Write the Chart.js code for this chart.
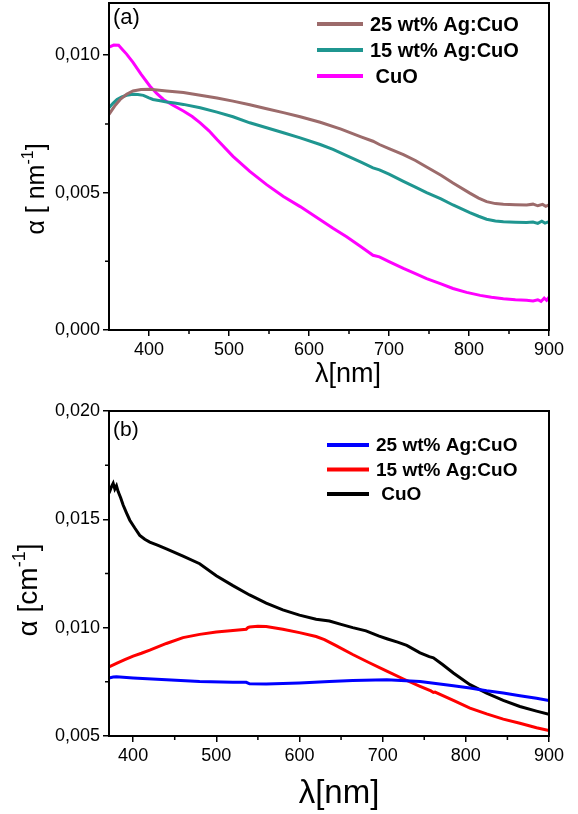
<!DOCTYPE html>
<html>
<head>
<meta charset="utf-8">
<script src="https://cdn.jsdelivr.net/npm/chart.js@4.4.1/dist/chart.umd.min.js"></script>
<style>
html, body { margin: 0; padding: 0; background: #fff; }
#wrapA { position: absolute; left: 0; top: 0; width: 578px; height: 400px; }
#wrapB { position: absolute; left: 0; top: 400px; width: 578px; height: 414px; }
</style>
</head>
<body>
<div id="wrapA"><canvas id="chartA" width="578" height="400"></canvas></div>
<div id="wrapB"><canvas id="chartB" width="578" height="414"></canvas></div>
<script>
// ---- panel (a): absorption coefficient in nm^-1 ----
const labelsA = ['25 wt% Ag:CuO', '15 wt% Ag:CuO', ' CuO'];
const wl25a = [350, 357, 364, 372, 380, 390, 401, 422, 443, 464, 485, 505, 526, 547, 568, 589, 614, 640, 665, 680, 688, 700, 718, 733, 747, 765, 780, 801, 812, 822, 833, 843, 858, 872, 880, 886, 892, 896, 900];
const alpha25a = [0.00785, 0.00815, 0.00839, 0.00858, 0.00870, 0.00875, 0.00876, 0.00870, 0.00864, 0.00854, 0.00844, 0.00833, 0.00820, 0.00805, 0.00791, 0.00776, 0.00756, 0.00731, 0.00703, 0.00687, 0.00675, 0.00660, 0.00638, 0.00617, 0.00593, 0.00563, 0.00535, 0.00498, 0.00480, 0.00467, 0.00460, 0.00458, 0.00456, 0.00455, 0.00458, 0.00452, 0.00457, 0.00450, 0.00455];
const wl15a = [350, 355, 360, 366, 372, 380, 386, 393, 400, 405, 414, 422, 432, 443, 464, 485, 505, 526, 547, 568, 589, 614, 630, 647, 665, 680, 688, 700, 718, 733, 747, 765, 780, 801, 812, 822, 833, 843, 858, 872, 880, 886, 891, 895, 900];
const alpha15a = [0.00809, 0.00825, 0.00839, 0.00848, 0.00854, 0.00858, 0.00857, 0.00854, 0.00845, 0.00839, 0.00834, 0.00830, 0.00826, 0.00821, 0.00809, 0.00793, 0.00776, 0.00754, 0.00736, 0.00718, 0.00699, 0.00675, 0.00657, 0.00635, 0.00611, 0.00590, 0.00583, 0.00567, 0.00541, 0.00520, 0.00500, 0.00477, 0.00455, 0.00427, 0.00414, 0.00403, 0.00397, 0.00394, 0.00392, 0.00391, 0.00393, 0.00388, 0.00396, 0.00389, 0.00394];
const wlCuOa = [350, 356, 362, 367, 372, 380, 390, 401, 410, 418, 430, 443, 454, 464, 475, 485, 505, 526, 547, 568, 589, 614, 630, 647, 665, 680, 688, 700, 718, 733, 747, 765, 780, 797, 814, 828, 843, 858, 872, 880, 886, 890, 894, 897, 900];
const alphaCuOa = [0.01029, 0.01037, 0.01036, 0.01020, 0.01004, 0.00974, 0.00931, 0.00888, 0.00860, 0.00839, 0.00818, 0.00797, 0.00777, 0.00754, 0.00725, 0.00693, 0.00632, 0.00577, 0.00529, 0.00486, 0.00449, 0.00401, 0.00370, 0.00339, 0.00303, 0.00272, 0.00266, 0.00249, 0.00224, 0.00205, 0.00187, 0.00168, 0.00151, 0.00137, 0.00126, 0.00119, 0.00114, 0.00110, 0.00108, 0.00106, 0.00110, 0.00104, 0.00116, 0.00108, 0.00120];
const xTicksA = [400, 500, 600, 700, 800, 900];
const yTicksA = [0, 0.005, 0.010];

// ---- panel (b): absorption coefficient in cm^-1 ----
const labelsB = ['25 wt% Ag:CuO', '15 wt% Ag:CuO', ' CuO'];
const wl25b = [371, 376, 380, 400, 440, 480, 520, 536, 540, 560, 600, 636, 664, 705, 745, 785, 805, 825, 845, 865, 885, 900];
const alpha25b = [0.00768, 0.00772, 0.00773, 0.00768, 0.00760, 0.00751, 0.00748, 0.00748, 0.00741, 0.00740, 0.00745, 0.00751, 0.00756, 0.00760, 0.00752, 0.00732, 0.00722, 0.00709, 0.00698, 0.00686, 0.00674, 0.00664];
const wl15b = [371, 380, 390, 400, 410, 420, 440, 460, 480, 500, 520, 536, 538, 540, 550, 560, 580, 600, 620, 630, 644, 664, 684, 705, 725, 745, 758, 761, 763, 785, 805, 825, 845, 865, 885, 900];
const alpha15b = [0.00819, 0.00835, 0.00852, 0.00869, 0.00882, 0.00896, 0.00927, 0.00954, 0.00969, 0.00980, 0.00987, 0.00993, 0.01000, 0.01003, 0.01006, 0.01005, 0.00993, 0.00977, 0.00959, 0.00945, 0.00917, 0.00876, 0.00838, 0.00799, 0.00763, 0.00729, 0.00708, 0.00701, 0.00703, 0.00664, 0.00629, 0.00602, 0.00578, 0.00559, 0.00538, 0.00525];
const wlCuOb = [371, 374, 376, 378, 380, 382, 385, 388, 392, 396, 402, 408, 414, 420, 430, 440, 460, 480, 500, 520, 540, 560, 580, 600, 620, 636, 650, 664, 680, 695, 705, 718, 729, 745, 756, 761, 772, 785, 805, 825, 845, 865, 885, 900];
const alphaCuOb = [0.01620, 0.01651, 0.01666, 0.01640, 0.01655, 0.01628, 0.01600, 0.01566, 0.01530, 0.01496, 0.01460, 0.01426, 0.01408, 0.01395, 0.01380, 0.01364, 0.01330, 0.01295, 0.01240, 0.01194, 0.01151, 0.01113, 0.01082, 0.01058, 0.01039, 0.01031, 0.01015, 0.01000, 0.00985, 0.00962, 0.00949, 0.00933, 0.00918, 0.00884, 0.00866, 0.00861, 0.00830, 0.00791, 0.00737, 0.00698, 0.00664, 0.00636, 0.00615, 0.00600];
const xTicksB = [400, 500, 600, 700, 800, 900];
const yTicksB = [0.005, 0.010, 0.015, 0.020];

const FONT = 'Arial, "Liberation Sans", sans-serif';

function pts(xs, ys) {
    return xs.map((x, i) => ({ x: x, y: ys[i] }));
}

// frame, minor ticks, panel label, legend and axis titles
const decor = {
    id: 'decor',
    afterDraw(chart, args, o) {
        const ctx = chart.ctx;
        const a = chart.chartArea;
        const xs = chart.scales.x;
        const ys = chart.scales.y;
        ctx.save();
        ctx.strokeStyle = '#000';
        ctx.lineWidth = 2;
        ctx.strokeRect(a.left, a.top, a.right - a.left, a.bottom - a.top);

        // minor ticks halfway between the major ones
        ctx.lineWidth = 1.5;
        ctx.beginPath();
        o.minorX.forEach(v => {
            const p = xs.getPixelForValue(v);
            ctx.moveTo(p, a.bottom); ctx.lineTo(p, a.bottom + 4);
        });
        o.minorY.forEach(v => {
            const p = ys.getPixelForValue(v);
            ctx.moveTo(a.left - 4, p); ctx.lineTo(a.left, p);
        });
        ctx.stroke();

        ctx.fillStyle = '#000';
        ctx.textAlign = 'left';
        ctx.textBaseline = 'top';
        ctx.font = o.panelFont;
        ctx.fillText(o.panel, a.left + 4, o.panelY);

        // legend
        ctx.textBaseline = 'middle';
        ctx.font = o.legendFont;
        chart.data.datasets.forEach((ds, i) => {
            const y = o.legendY + i * o.legendGap;
            ctx.strokeStyle = ds.borderColor;
            ctx.lineWidth = o.legendLine;
            ctx.beginPath();
            ctx.moveTo(o.legendX, y); ctx.lineTo(o.legendX + o.legendLen, y);
            ctx.stroke();
            ctx.fillText(ds.label, o.legendX + o.legendLen + 7, y + 1);
        });

        // x title
        ctx.textAlign = 'center';
        ctx.textBaseline = 'alphabetic';
        ctx.font = o.xTitleFont;
        ctx.fillText(o.xTitle, o.xTitleX, o.xTitleY);

        // y title, rotated, with a superscript
        ctx.translate(o.yTitleX, o.yTitleY);
        ctx.rotate(-Math.PI / 2);
        ctx.textAlign = 'left';
        ctx.font = o.yTitleFont;
        const w1 = ctx.measureText(o.yTitle[0]).width;
        const w3 = ctx.measureText(o.yTitle[2]).width;
        ctx.font = o.ySupFont;
        const w2 = ctx.measureText(o.yTitle[1]).width;
        let x0 = -(w1 + w2 + w3) / 2;
        ctx.font = o.yTitleFont;
        ctx.fillText(o.yTitle[0], x0, 0);
        ctx.font = o.ySupFont;
        ctx.fillText(o.yTitle[1], x0 + w1, -o.supRaise);
        ctx.font = o.yTitleFont;
        ctx.fillText(o.yTitle[2], x0 + w1 + w2, 0);
        ctx.restore();
    }
};

function makeChart(id, sets, cfg) {
    return new Chart(document.getElementById(id), {
        type: 'line',
        data: {
            datasets: sets.map(s => ({
                label: s.label,
                data: s.data,
                borderColor: s.color,
                borderWidth: 3,
                pointRadius: 0,
                tension: 0,
                fill: false
            }))
        },
        options: {
            responsive: false,
            animation: false,
            layout: { padding: cfg.padding },
            plugins: {
                legend: { display: false },
                tooltip: { enabled: false },
                decor: cfg.decor
            },
            scales: {
                x: {
                    type: 'linear',
                    min: cfg.xMin,
                    max: 900,
                    afterBuildTicks: s => { s.ticks = cfg.xTicks.map(v => ({ value: v })); },
                    afterFit: s => { s.height = cfg.xHeight; s.paddingLeft = 0; s.paddingRight = 0; },
                    ticks: {
                        color: '#000',
                        font: { family: FONT, size: 18 },
                        padding: 3,
                        maxRotation: 0,
                        callback: v => String(v)
                    },
                    grid: { drawOnChartArea: false, tickLength: 6, color: '#000', lineWidth: 1.5 },
                    border: { color: '#000', width: 2 }
                },
                y: {
                    type: 'linear',
                    min: cfg.yMin,
                    max: cfg.yMax,
                    afterBuildTicks: s => { s.ticks = cfg.yTicks.map(v => ({ value: v })); },
                    afterFit: s => { s.width = 109; s.paddingTop = 0; s.paddingBottom = 0; },
                    ticks: {
                        color: '#000',
                        font: { family: FONT, size: 18 },
                        padding: 3,
                        callback: v => v.toFixed(3).replace('.', ',')
                    },
                    grid: { drawOnChartArea: false, tickLength: 6, color: '#000', lineWidth: 1.5 },
                    border: { color: '#000', width: 2 }
                }
            }
        },
        plugins: [decor]
    });
}

makeChart('chartA', [
    { label: labelsA[0], data: pts(wl25a, alpha25a), color: '#9c6b6b' },
    { label: labelsA[1], data: pts(wl15a, alpha15a), color: '#1f9690' },
    { label: labelsA[2], data: pts(wlCuOa, alphaCuOa), color: '#ff00ff' }
], {
    padding: { left: 0, right: 29, top: 3, bottom: 0 },
    xMin: 350, yMin: 0, yMax: 0.0119,
    xTicks: xTicksA, yTicks: yTicksA, xHeight: 70,
    decor: {
        minorX: [450, 550, 650, 750, 850],
        minorY: [0.0025, 0.0075],
        panel: '(a)', panelFont: '22px ' + FONT, panelY: 7,
        legendX: 317, legendY: 24, legendGap: 26, legendLen: 46, legendLine: 4,
        legendFont: 'bold 20px ' + FONT,
        xTitle: '\u03bb[nm]', xTitleFont: '27px ' + FONT, xTitleX: 348, xTitleY: 382,
        yTitle: ['\u03b1 [ nm', '-1', ']'], yTitleFont: '25px ' + FONT, ySupFont: '16px ' + FONT,
        supRaise: 11, yTitleX: 44, yTitleY: 189
    }
});

makeChart('chartB', [
    { label: labelsB[0], data: pts(wl25b, alpha25b), color: '#0000ff' },
    { label: labelsB[1], data: pts(wl15b, alpha15b), color: '#ff0000' },
    { label: labelsB[2], data: pts(wlCuOb, alphaCuOb), color: '#000000' }
], {
    padding: { left: 0, right: 29, top: 11, bottom: 0 },
    xMin: 371, yMin: 0.005, yMax: 0.020,
    xTicks: xTicksB, yTicks: yTicksB, xHeight: 78,
    decor: {
        minorX: [450, 550, 650, 750, 850],
        minorY: [0.0075, 0.0125, 0.0175],
        panel: '(b)', panelFont: '21px ' + FONT, panelY: 20,
        legendX: 327, legendY: 45, legendGap: 24.5, legendLen: 42, legendLine: 4,
        legendFont: 'bold 19px ' + FONT,
        xTitle: '\u03bb[nm]', xTitleFont: '33px ' + FONT, xTitleX: 339, xTitleY: 403,
        yTitle: ['\u03b1 [cm', '-1', ']'], yTitleFont: '28px ' + FONT, ySupFont: '18px ' + FONT,
        supRaise: 12, yTitleX: 37, yTitleY: 190
    }
});
</script>
</body>
</html>
